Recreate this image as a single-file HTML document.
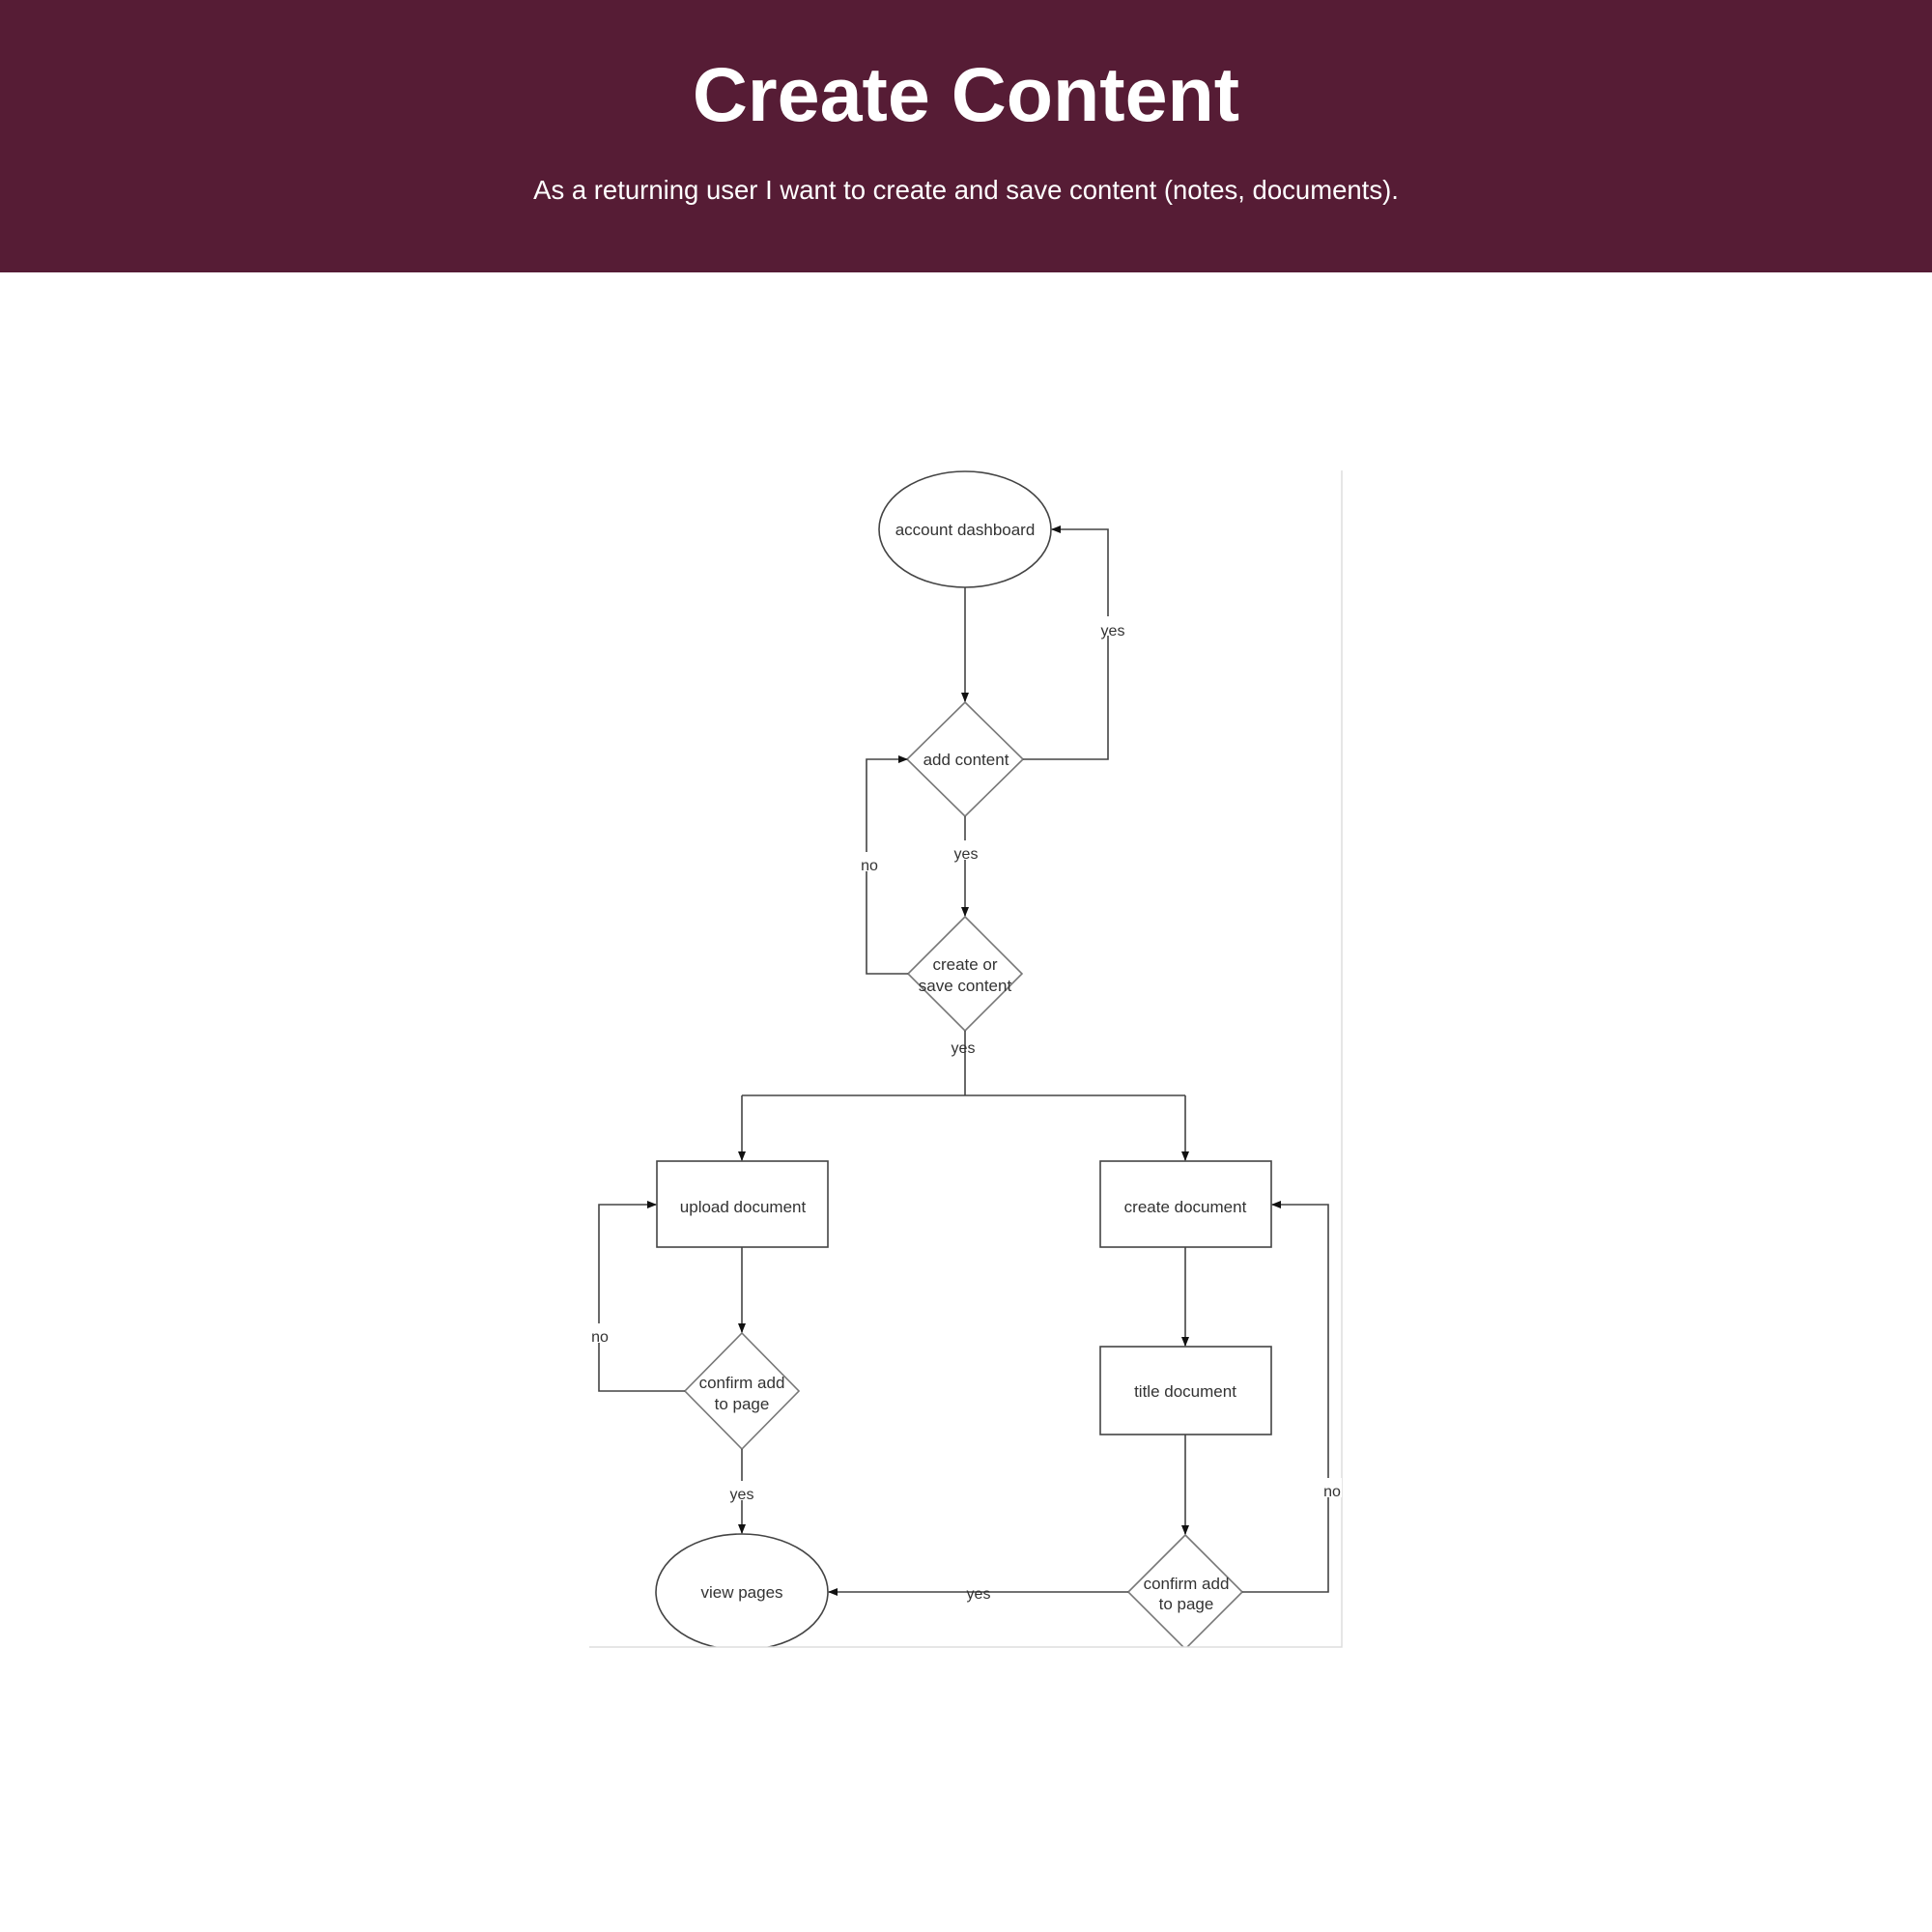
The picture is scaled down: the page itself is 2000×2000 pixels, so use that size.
<!DOCTYPE html>
<html><head><meta charset="utf-8"><style>
html,body{margin:0;padding:0;background:#fff;width:2000px;height:2000px;overflow:hidden}
.hdr{position:absolute;left:0;top:0;width:2000px;height:282px;background:#561c35;color:#fff;font-family:"Liberation Sans",sans-serif;text-align:center}
.hdr h1{margin:0;position:absolute;top:55px;width:100%;font-size:79px;font-weight:bold;line-height:86px}
.hdr p{margin:0;position:absolute;top:181px;width:100%;font-size:27.5px;line-height:32px}
svg{position:absolute;left:0;top:0}
</style></head><body>
<div class="hdr"><h1>Create Content</h1><p>As a returning user I want to create and save content (notes, documents).</p></div>
<svg width="2000" height="2000" viewBox="0 0 2000 2000" font-family="Liberation Sans, sans-serif" font-size="17" fill="#333">
<defs>
<clipPath id="c"><rect x="600" y="487" width="789" height="1218"/></clipPath>
<marker id="a" markerWidth="10" markerHeight="10" refX="9" refY="5" orient="auto" markerUnits="userSpaceOnUse"><path d="M0,1 L10,5 L0,9z" fill="#111"/></marker>
</defs>
<g clip-path="url(#c)" stroke="#444" stroke-width="1.6" fill="none">
<ellipse cx="999" cy="548" rx="89" ry="60" fill="#fff"/>
<polygon points="999,727 1059,786 999,845 939,786" stroke="#777"/>
<polygon points="999,949 1058,1008 999,1067 940,1008" stroke="#777"/>
<rect x="680" y="1202" width="177" height="89"/>
<rect x="1139" y="1202" width="177" height="89"/>
<rect x="1139" y="1394" width="177" height="91"/>
<polygon points="768,1380 827,1440 768,1500 709,1440" stroke="#777"/>
<ellipse cx="768" cy="1648" rx="89" ry="60"/>
<polygon points="1227,1589 1286,1648 1227,1707 1168,1648" stroke="#777"/>
<path d="M999,608 V726" marker-end="url(#a)"/>
<path d="M1059,786 H1147 V548 H1089" marker-end="url(#a)"/>
<path d="M999,845 V948" marker-end="url(#a)"/>
<path d="M940,1008 H897 V786 H939" marker-end="url(#a)"/>
<path d="M999,1067 V1134 M768,1134 H1227"/>
<path d="M768,1134 V1201" marker-end="url(#a)"/>
<path d="M1227,1134 V1201" marker-end="url(#a)"/>
<path d="M768,1291 V1379" marker-end="url(#a)"/>
<path d="M709,1440 H620 V1247 H679" marker-end="url(#a)"/>
<path d="M768,1500 V1587" marker-end="url(#a)"/>
<path d="M1227,1291 V1393" marker-end="url(#a)"/>
<path d="M1227,1485 V1588" marker-end="url(#a)"/>
<path d="M1286,1648 H1375 V1247 H1317" marker-end="url(#a)"/>
<path d="M1168,1648 H858" marker-end="url(#a)"/>
</g>
<path d="M1389,487 V1705 H610" stroke="#ddd" stroke-width="1.5" fill="none"/>
<g text-anchor="middle" stroke="none">
<text x="999" y="554">account dashboard</text>
<text x="1000" y="792">add content</text>
<text x="999" y="1004">create or</text>
<text x="999" y="1026">save content</text>
<text x="769" y="1255">upload document</text>
<text x="1227" y="1255">create document</text>
<text x="1227" y="1446">title document</text>
<text x="768" y="1437">confirm add</text>
<text x="768" y="1459">to page</text>
<text x="768" y="1654">view pages</text>
<text x="1228" y="1645">confirm add</text>
<text x="1228" y="1666">to page</text>
<g font-size="16">
<rect x="1136" y="638" width="32" height="20" fill="#fff"/><text x="1152" y="658">yes</text>
<rect x="984" y="870" width="32" height="20" fill="#fff"/><text x="1000" y="889">yes</text>
<rect x="888" y="882" width="24" height="20" fill="#fff"/><text x="900" y="901">no</text>
<text x="997" y="1090">yes</text>
<rect x="609" y="1370" width="24" height="20" fill="#fff"/><text x="621" y="1389">no</text>
<rect x="752" y="1533" width="32" height="20" fill="#fff"/><text x="768" y="1552">yes</text>
<rect x="1367" y="1530" width="22" height="20" fill="#fff"/><text x="1379" y="1549">no</text>
<text x="1013" y="1655">yes</text>
</g>
</g>
</svg>
</body></html>
